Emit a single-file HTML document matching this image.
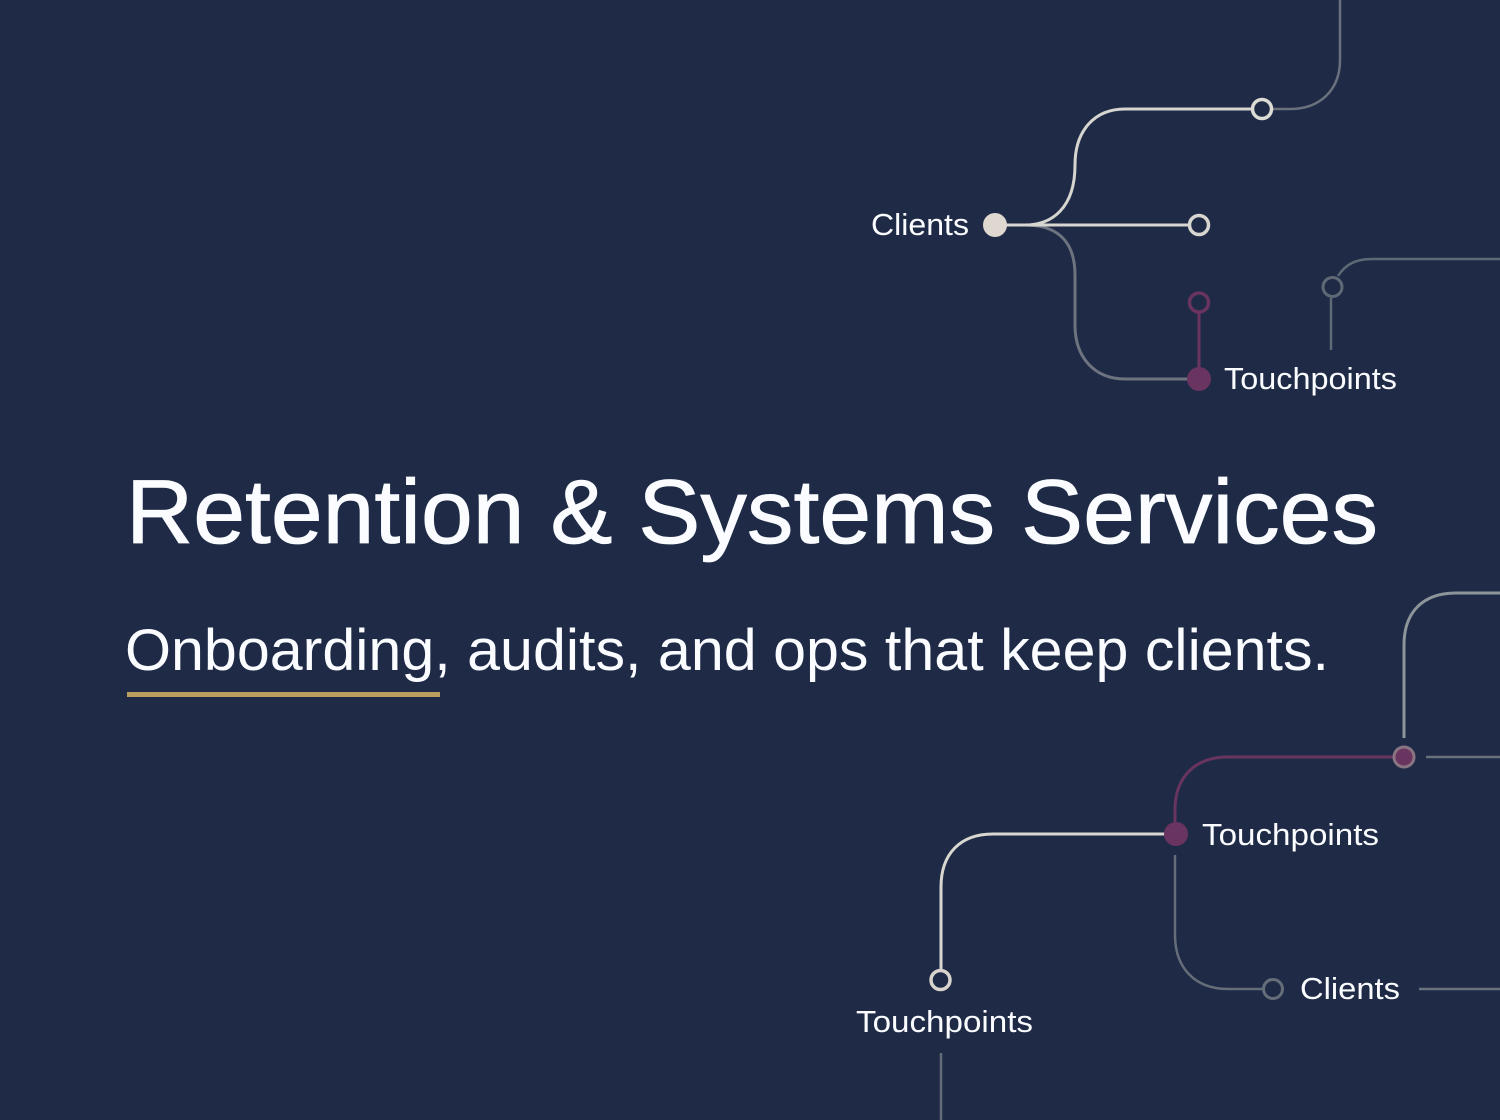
<!DOCTYPE html>
<html lang="en">
<head>
<meta charset="utf-8">
<title>Retention &amp; Systems Services</title>
<style>
html,body{margin:0;padding:0;background:#1f2b46;width:1500px;height:1120px;overflow:hidden}
svg{display:block}
text{font-family:"Liberation Sans",Arial,sans-serif;fill:#fbfcff}
.l{font-size:31px}
path,line{fill:none}
</style>
</head>
<body>
<svg width="1500" height="1120" viewBox="0 0 1500 1120" xmlns="http://www.w3.org/2000/svg">
<rect width="1500" height="1120" fill="#1f2b46"/>

<!-- Top cluster -->
<path d="M1272 109H1290C1320 109 1340 90 1340 60V0" stroke="#69727c" stroke-width="2.5"/>
<path d="M1338 276C1345 265 1355 259 1372 259H1500" stroke="#5f6975" stroke-width="2.5"/>
<line x1="1331" y1="298" x2="1331" y2="350" stroke="#5f6975" stroke-width="2.5"/>
<circle cx="1332.500" cy="287" r="9.500" fill="none" stroke="#5f6975" stroke-width="3"/>

<path d="M1025 225C1052 225 1075 208 1075 165C1075 130 1095 109 1125 109H1253" stroke="#d6d5cf" stroke-width="3"/>
<path d="M1025 225C1056 225 1075 240 1075 275V325C1075 358 1095 379 1125 379H1190" stroke="#6e7380" stroke-width="3"/>
<line x1="1005" y1="225" x2="1190" y2="225" stroke="#d8d6d0" stroke-width="3"/>
<line x1="1199" y1="312" x2="1199" y2="370" stroke="#69345f" stroke-width="3"/>

<circle cx="995" cy="225" r="12" fill="#dfd8d0"/>
<circle cx="1262" cy="109" r="9.500" fill="#1f2b46" stroke="#dcdbd5" stroke-width="3.500"/>
<circle cx="1199" cy="225" r="9.500" fill="#1f2b46" stroke="#d8d6d0" stroke-width="3.500"/>
<circle cx="1199" cy="302.500" r="9.500" fill="none" stroke="#69345f" stroke-width="3.500"/>
<circle cx="1199" cy="379" r="12" fill="#69345f"/>

<!-- Bottom cluster -->
<path d="M1404 738V645C1404 612 1423 593 1456 593H1500" stroke="#8d949a" stroke-width="3"/>
<line x1="1426" y1="757" x2="1500" y2="757" stroke="#69727c" stroke-width="2.500"/>
<path d="M1393 757H1228C1195 757 1175 777 1175 810V822" stroke="#69345f" stroke-width="3"/>
<circle cx="1404" cy="757" r="10" fill="#69345f" stroke="#8a7482" stroke-width="3"/>

<path d="M1165 834H993C960 834 941 854 941 887V969" stroke="#d8d7d0" stroke-width="3"/>
<circle cx="1176" cy="834" r="12" fill="#69345f"/>
<path d="M1175 855V935C1175 968 1195 989 1228 989H1263" stroke="#656d79" stroke-width="2.500"/>
<circle cx="1273" cy="989" r="9.500" fill="none" stroke="#656d79" stroke-width="3"/>
<line x1="1419" y1="989" x2="1500" y2="989" stroke="#69727c" stroke-width="2.500"/>
<circle cx="940.500" cy="980" r="9.500" fill="none" stroke="#d8d3cd" stroke-width="3.500"/>
<line x1="941" y1="1053" x2="941" y2="1120" stroke="#636b79" stroke-width="2.500"/>

<!-- Node labels -->
<text class="l" x="871" y="235" textLength="98" lengthAdjust="spacingAndGlyphs">Clients</text>
<text class="l" x="1224" y="389" textLength="173" lengthAdjust="spacingAndGlyphs">Touchpoints</text>
<text class="l" x="1202" y="845" textLength="177" lengthAdjust="spacingAndGlyphs">Touchpoints</text>
<text class="l" x="1300" y="999" textLength="100" lengthAdjust="spacingAndGlyphs">Clients</text>
<text class="l" x="856" y="1032" textLength="177" lengthAdjust="spacingAndGlyphs">Touchpoints</text>

<!-- Heading -->
<text x="126" y="543" font-size="91" textLength="1252" lengthAdjust="spacingAndGlyphs" stroke="#fbfcff" stroke-width="0.8">Retention &amp; Systems Services</text>
<text x="125" y="670" font-size="58" textLength="1204" lengthAdjust="spacingAndGlyphs">Onboarding, audits, and ops that keep clients.</text>
<rect x="127" y="692" width="313" height="5" fill="#bb9f5f"/>
</svg>
</body>
</html>
